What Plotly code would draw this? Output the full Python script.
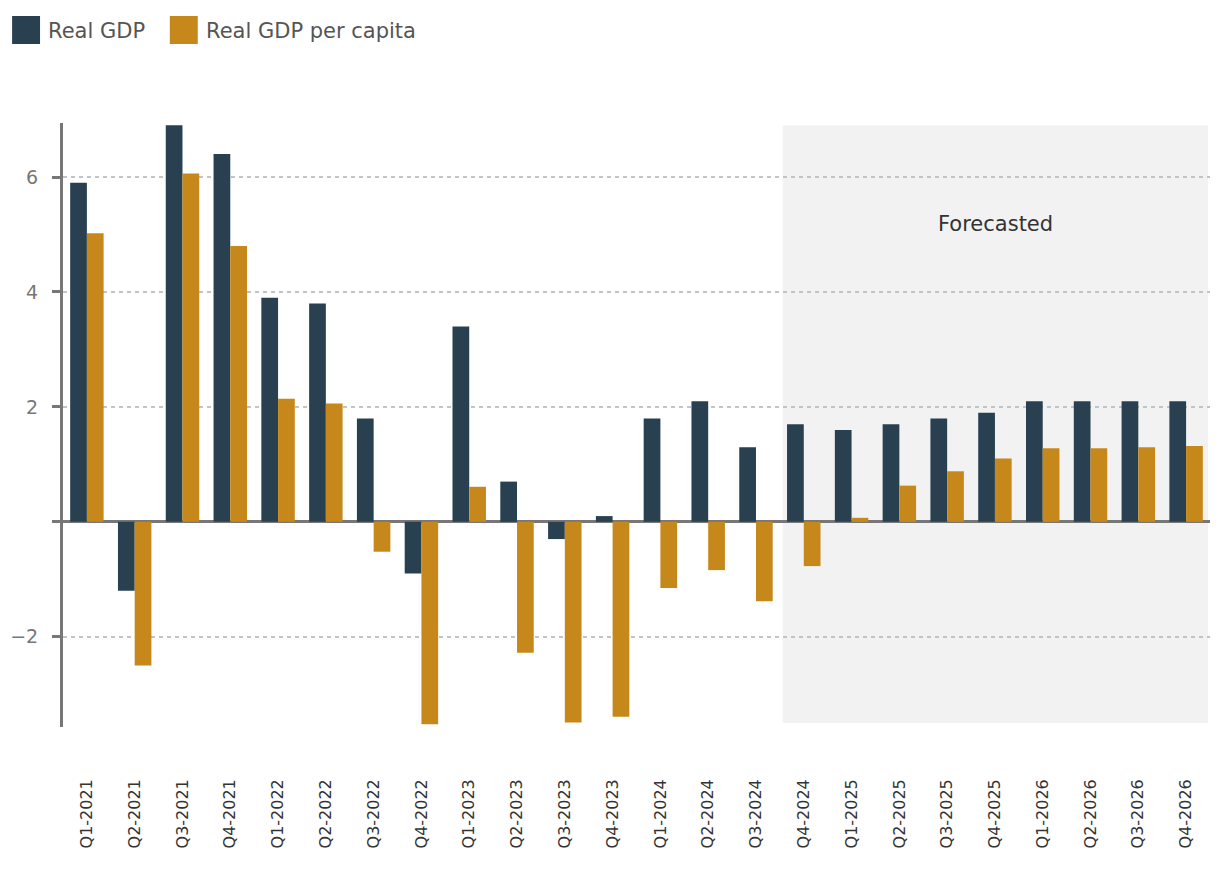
import plotly.graph_objects as go

quarters = ["Q1-2021", "Q2-2021", "Q3-2021", "Q4-2021",
            "Q1-2022", "Q2-2022", "Q3-2022", "Q4-2022",
            "Q1-2023", "Q2-2023", "Q3-2023", "Q4-2023",
            "Q1-2024", "Q2-2024", "Q3-2024", "Q4-2024",
            "Q1-2025", "Q2-2025", "Q3-2025", "Q4-2025",
            "Q1-2026", "Q2-2026", "Q3-2026", "Q4-2026"]
real_gdp = [5.9, -1.2, 6.9, 6.4,
            3.9, 3.8, 1.8, -0.9,
            3.4, 0.7, -0.3, 0.1,
            1.8, 2.1, 1.3, 1.7,
            1.6, 1.7, 1.8, 1.9,
            2.1, 2.1, 2.1, 2.1]
real_gdp_pc = [5.02, -2.5, 6.06, 4.8,
               2.14, 2.06, -0.52, -3.52,
               0.61, -2.28, -3.49, -3.39,
               -1.15, -0.84, -1.38, -0.77,
               0.07, 0.63, 0.88, 1.1,
               1.28, 1.28, 1.3, 1.32]
y_ticks = [-2, 0, 2, 4, 6]
y_ticktext = ["\u22122", "", "2", "4", "6"]
series_names = ["Real GDP", "Real GDP per capita"]
colors = ["#28404F", "#C7881B"]

# layout geometry (pixels)
W, H = 1220, 890
ML, MR, MT, MB = 61, 10, 123, 163
PW, PH = W - ML - MR, H - MT - MB

def px(xp):
    return (xp - ML) / PW

def py(yp):
    return (H - MB - yp) / PH

fig = go.Figure()
for name, vals, col in zip(series_names, [real_gdp, real_gdp_pc], colors):
    fig.add_trace(go.Bar(x=quarters, y=vals, name=name, marker_color=col,
                         marker_line_width=0, showlegend=False,
                         hovertemplate="%{x}: %{y}<extra>" + name + "</extra>"))

shapes = [
    dict(type="rect", xref="x", yref="y", x0=14.56, x1=23.46, y0=-3.5, y1=6.9,
         fillcolor="#F2F2F2", line_width=0, layer="below"),
]
annotations = [
    dict(text="Forecasted", xref="x", yref="y", x=(14.56 + 23.46) / 2, y=5.18,
         showarrow=False, font=dict(family="DejaVu Sans", size=21, color="#333333"),
         xanchor="center", yanchor="middle"),
]
# manual legend
leg = [(10, 38, 44), (168, 196, 202)]
for (sx0, sx1, tx), name, col in zip(leg, series_names, colors):
    shapes.append(dict(type="rect", xref="paper", yref="paper",
                       x0=px(sx0), x1=px(sx1), y0=py(44), y1=py(16),
                       fillcolor=col, line_width=0))
    annotations.append(dict(text=name, xref="paper", yref="paper", x=px(tx), y=py(31),
                            xanchor="left", yanchor="middle", showarrow=False,
                            font=dict(family="DejaVu Sans", size=21, color="#555555")))

fig.update_layout(
    width=W, height=H,
    margin=dict(l=ML, r=MR, t=MT, b=MB),
    paper_bgcolor="white", plot_bgcolor="white",
    barmode="group", bargap=0.3, bargroupgap=0,
    shapes=shapes, annotations=annotations,
    font=dict(family="DejaVu Sans"),
)
fig.update_xaxes(
    type="category", range=[-0.5, 23.5], showgrid=False, zeroline=False,
    showline=False, ticks="", tickangle=-90, ticklabelstandoff=48,
    tickfont=dict(family="DejaVu Sans", size=16, color="#333333"),
)
fig.update_yaxes(
    range=[-3.57, 6.94], tickvals=y_ticks, ticktext=y_ticktext,
    showgrid=True, gridcolor="#BEC4C8", gridwidth=1.5, griddash="4px,4px",
    zeroline=True, zerolinecolor="#777777", zerolinewidth=3,
    showline=True, linecolor="#777777", linewidth=3,
    ticks="outside", ticklen=8, tickwidth=3, tickcolor="#777777",
    ticklabelstandoff=10,
    tickfont=dict(family="DejaVu Sans", size=19, color="#777777"),
)

fig.write_html("out.html")
